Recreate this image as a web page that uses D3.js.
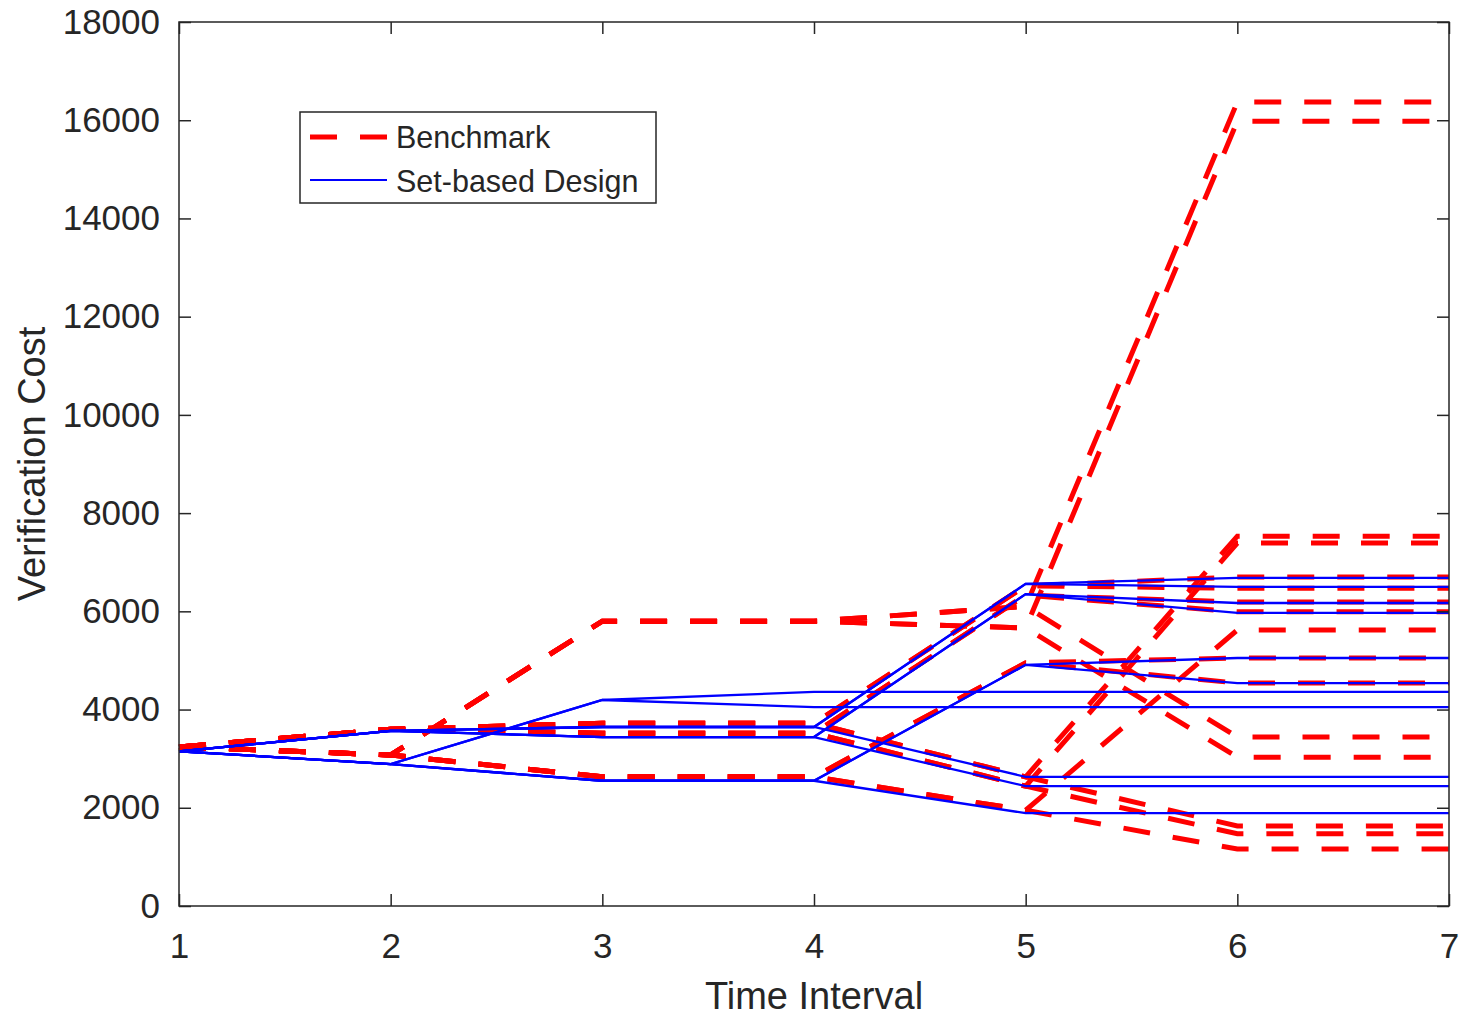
<!DOCTYPE html>
<html>
<head>
<meta charset="utf-8">
<script src="https://cdnjs.cloudflare.com/ajax/libs/d3/7.8.5/d3.min.js"></script>
<style>
  body { margin: 0; background: #fff; }
  svg { display: block; font-family: "Liberation Sans", Arial, sans-serif; }
</style>
</head>
<body>
<svg width="1463" height="1017"></svg>
<script>
// time steps on the x axis
var timeIntervals = [1, 2, 3, 4, 5, 6, 7];

// benchmark scenarios (red dashed), one row per path
var benchmark = [
    [3240, 3600, 3720, 3720, 6520, 6700, 6700],
    [3240, 3600, 3720, 3720, 6520, 6470, 6470],
    [3240, 3600, 3720, 3720, 2630, 7530, 7530],
    [3240, 3600, 3720, 3720, 2630, 1630, 1630],
    [3240, 3600, 3520, 3520, 6330, 6190, 6190],
    [3240, 3600, 3520, 3520, 6330, 5990, 5990],
    [3240, 3600, 3520, 3520, 2440, 7390, 7390],
    [3240, 3600, 3520, 3520, 2440, 1470, 1470],
    [3240, 3075, 5800, 5800, 6100, 16370, 16370],
    [3240, 3075, 5800, 5800, 6100, 3440, 3440],
    [3240, 3075, 5800, 5800, 5660, 15980, 15980],
    [3240, 3075, 5800, 5800, 5660, 3030, 3030],
    [3240, 3075, 2630, 2630, 4950, 5050, 5050],
    [3240, 3075, 2630, 2630, 4950, 4540, 4540],
    [3240, 3075, 2630, 2630, 1950, 5620, 5620],
    [3240, 3075, 2630, 2630, 1950, 1160, 1160]
];

// set-based design scenarios (blue solid)
var setBased = [
    [3150, 3565, 3645, 3645, 6560, 6680, 6680],
    [3150, 3565, 3645, 3645, 6560, 6500, 6500],
    [3150, 3565, 3440, 3440, 6350, 6170, 6170],
    [3150, 3565, 3440, 3440, 6350, 5970, 5970],
    [3150, 3565, 3645, 3645, 2630, 2630, 2630],
    [3150, 3565, 3440, 3440, 2440, 2440, 2440],
    [3150, 2890, 4195, 4360, 4360, 4360, 4360],
    [3150, 2890, 4195, 4050, 4050, 4050, 4050],
    [3150, 2890, 2550, 2550, 4910, 5050, 5050],
    [3150, 2890, 2550, 2550, 4910, 4540, 4540],
    [3150, 2890, 2550, 2550, 1890, 1890, 1890]
];

var yTicks = [0, 2000, 4000, 6000, 8000, 10000, 12000, 14000, 16000, 18000];
var legendNames = ["Benchmark", "Set-based Design"];

var axisColor = "#262626";
var svg = d3.select("svg");

var x = d3.scaleLinear().domain([1, 7]).range([179, 1449]);
var y = d3.scaleLinear().domain([0, 18000]).range([906, 22]);

var line = d3.line()
    .x(function(d, i) { return x(timeIntervals[i]); })
    .y(function(d) { return y(d); });

var plot = svg.append("g");

// red dashed benchmark paths go first, blue drawn on top
plot.selectAll(".bench")
    .data(benchmark)
    .enter().append("path")
    .attr("class", "bench")
    .attr("d", line)
    .attr("fill", "none")
    .attr("stroke", "#ff0000")
    .attr("stroke-width", 5)
    .attr("stroke-dasharray", "27,23");

plot.selectAll(".setb")
    .data(setBased)
    .enter().append("path")
    .attr("class", "setb")
    .attr("d", line)
    .attr("fill", "none")
    .attr("stroke", "#0000ff")
    .attr("stroke-width", 2.3);

// axes with inward ticks on all four sides (box on)
function styleAxis(g) {
    g.select(".domain").remove();
    g.selectAll(".tick line").attr("stroke", axisColor).attr("stroke-width", 1.5);
    g.selectAll(".tick text").attr("fill", axisColor).style("font-size", "35px");
}

svg.append("g")
    .attr("transform", "translate(0,906)")
    .call(d3.axisBottom(x).tickValues(timeIntervals).tickFormat(d3.format("d")).tickSize(-12).tickPadding(27))
    .call(styleAxis);

svg.append("g")
    .attr("transform", "translate(0,22)")
    .call(d3.axisTop(x).tickValues(timeIntervals).tickSize(-12).tickFormat(""))
    .call(styleAxis);

svg.append("g")
    .attr("transform", "translate(179,0)")
    .call(d3.axisLeft(y).tickValues(yTicks).tickFormat(d3.format("d")).tickSize(-12).tickPadding(19))
    .call(styleAxis);

svg.append("g")
    .attr("transform", "translate(1449,0)")
    .call(d3.axisRight(y).tickValues(yTicks).tickSize(-12).tickFormat(""))
    .call(styleAxis);

svg.append("rect")
    .attr("x", x(1)).attr("y", y(18000))
    .attr("width", x(7) - x(1)).attr("height", y(0) - y(18000))
    .attr("fill", "none")
    .attr("stroke", axisColor)
    .attr("stroke-width", 1.5);

// axis titles
svg.append("text")
    .attr("x", x(4))
    .attr("y", 1009)
    .attr("text-anchor", "middle")
    .attr("fill", axisColor)
    .style("font-size", "38px")
    .text("Time Interval");

svg.append("text")
    .attr("transform", "translate(45," + y(9000) + ") rotate(-90)")
    .attr("text-anchor", "middle")
    .attr("fill", axisColor)
    .style("font-size", "38px")
    .text("Verification Cost");

// legend
var legend = svg.append("g");
legend.append("rect")
    .attr("x", 300).attr("y", 112)
    .attr("width", 356).attr("height", 91)
    .attr("fill", "#fff")
    .attr("stroke", axisColor)
    .attr("stroke-width", 1.5);

legend.append("line")
    .attr("x1", 310).attr("x2", 387)
    .attr("y1", 137).attr("y2", 137)
    .attr("stroke", "#ff0000")
    .attr("stroke-width", 5)
    .attr("stroke-dasharray", "27,23");

legend.append("line")
    .attr("x1", 310).attr("x2", 387)
    .attr("y1", 180).attr("y2", 180)
    .attr("stroke", "#0000ff")
    .attr("stroke-width", 2);

legend.selectAll(".lab")
    .data(legendNames)
    .enter().append("text")
    .attr("class", "lab")
    .attr("x", 396)
    .attr("y", function(d, i) { return 148 + i * 44; })
    .attr("fill", axisColor)
    .style("font-size", "30.5px")
    .text(function(d) { return d; });
</script>
</body>
</html>
